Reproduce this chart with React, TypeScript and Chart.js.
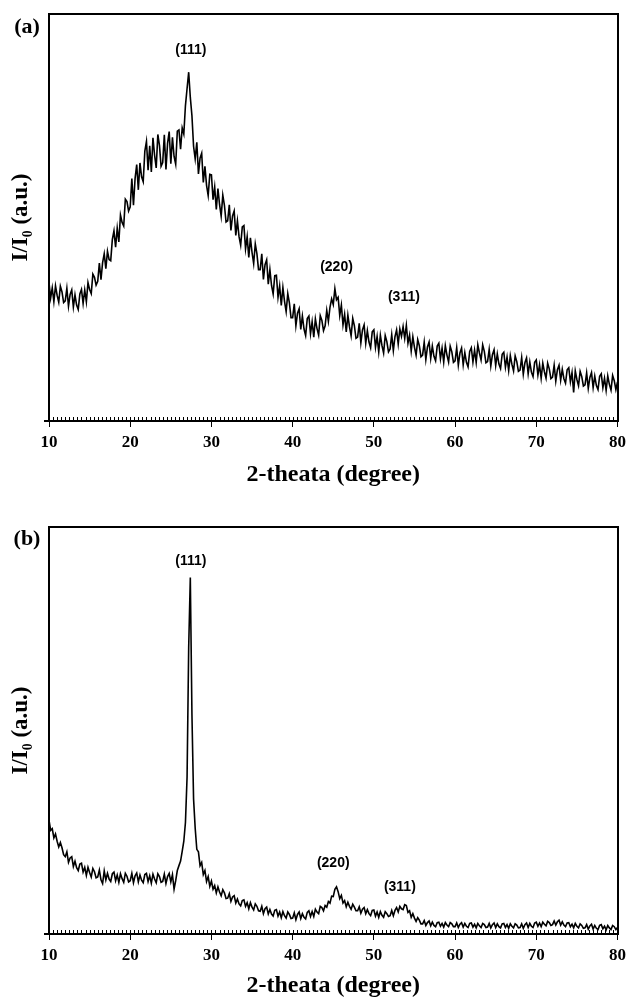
import React, { useEffect, useRef } from 'react';
import { Chart, registerables } from 'chart.js';

Chart.register(...registerables);

// ---- data ----
const THETA_START = 10;
const THETA_STEP = 0.2;
const X_TICKS = [10, 20, 30, 40, 50, 60, 70, 80];
const X_TITLE = '2-theata (degree)';
const Y_TITLE = 'I/I\u2080 (a.u.)';
const PANEL_TAGS = ['(a)', '(b)'];
const PEAK_LABELS = ['(111)', '(220)', '(311)'];
const PEAK_X_A = [27.46, 45.4, 53.7];
const PEAK_Y_A = [91.2, 37.8, 30.5];
const PEAK_X_B = [27.46, 45.0, 53.2];
const PEAK_Y_B = [91.6, 17.4, 11.5];

const INTENSITY_A = [
  34.0, 30.2, 32.7, 29.3, 33.2, 30.9, 29.2, 33.1, 31.7, 29.1,
  29.5, 32.6, 28.2, 31.1, 32.2, 28.0, 31.0, 28.5, 27.4, 31.2,
  32.3, 28.9, 32.2, 29.3, 34.0, 32.3, 31.3, 36.1, 35.3, 33.4,
  34.3, 38.8, 34.7, 38.9, 41.1, 37.4, 41.7, 39.7, 39.4, 44.6,
  46.7, 42.7, 47.4, 44.0, 50.6, 48.8, 47.9, 54.5, 53.9, 51.6,
  52.6, 59.6, 53.0, 59.6, 63.0, 56.8, 63.4, 60.0, 58.8, 66.3,
  68.7, 61.6, 67.6, 61.2, 69.6, 65.3, 62.2, 70.4, 67.7, 62.6,
  63.5, 70.3, 61.8, 68.2, 71.1, 63.2, 69.7, 65.0, 63.1, 71.2,
  71.5, 66.8, 72.0, 70.5, 77.5, 81.7, 85.7, 79.5, 75.0, 67.5,
  64.4, 68.5, 60.7, 64.6, 65.8, 58.6, 62.6, 57.9, 55.4, 60.6,
  60.5, 54.4, 57.5, 52.0, 57.1, 53.2, 50.3, 55.5, 53.0, 48.9,
  49.2, 53.1, 46.8, 50.4, 51.6, 45.6, 49.2, 45.3, 43.2, 47.7,
  48.0, 42.3, 45.3, 40.2, 45.0, 41.4, 38.7, 43.5, 41.1, 37.2,
  37.2, 41.1, 34.8, 38.4, 39.6, 33.6, 37.2, 33.3, 31.2, 35.7,
  35.8, 30.4, 33.2, 28.4, 32.8, 29.4, 26.9, 31.3, 29.0, 25.4,
  25.4, 28.8, 23.4, 26.5, 27.6, 22.5, 25.8, 22.6, 21.0, 25.2,
  25.8, 21.4, 24.4, 20.6, 25.1, 22.7, 21.1, 25.9, 24.7, 22.2,
  23.4, 27.2, 24.5, 28.0, 30.0, 28.6, 32.5, 29.8, 30.4, 25.9,
  28.5, 23.6, 26.2, 21.9, 26.0, 23.1, 20.9, 25.2, 23.4, 20.3,
  20.6, 24.0, 19.2, 22.4, 23.6, 19.1, 22.2, 19.4, 18.0, 21.9,
  22.4, 18.1, 20.8, 17.0, 21.1, 18.5, 16.7, 21.0, 19.5, 17.0,
  17.7, 21.2, 17.3, 20.7, 22.4, 18.9, 22.6, 20.8, 23.2, 20.3,
  23.5, 19.1, 21.1, 17.2, 20.7, 18.1, 16.2, 20.0, 18.5, 15.8,
  16.2, 19.4, 15.1, 18.2, 19.4, 15.4, 18.4, 15.9, 14.8, 18.4,
  19.1, 15.3, 17.9, 14.5, 18.5, 16.2, 14.5, 18.4, 17.0, 14.4,
  14.8, 18.0, 13.7, 16.7, 17.9, 13.8, 16.8, 14.4, 13.3, 17.1,
  18.0, 14.5, 17.4, 14.4, 18.7, 16.7, 15.0, 18.7, 17.1, 14.3,
  14.6, 17.6, 13.5, 16.3, 17.5, 13.6, 16.5, 14.0, 12.9, 16.4,
  16.9, 13.2, 15.7, 12.4, 16.1, 13.9, 12.3, 16.0, 14.6, 12.2,
  12.5, 15.6, 11.5, 14.3, 15.5, 11.6, 14.5, 12.0, 10.9, 14.4,
  15.0, 11.3, 13.8, 10.5, 14.2, 12.1, 10.5, 14.2, 12.8, 10.4,
  10.8, 13.7, 9.8, 12.6, 13.7, 10.0, 12.7, 10.4, 9.3, 12.6,
  13.1, 9.6, 11.9, 7.0, 12.3, 10.2, 8.7, 12.2, 10.9, 8.6,
  8.9, 11.8, 8.0, 10.7, 11.9, 8.2, 11.0, 8.7, 7.7, 11.0,
  11.6, 8.2, 10.5, 7.5, 11.1, 9.0, 7.6, 11.2, 9.9, 7.7,
  9.6,
];

const INTENSITY_B = [
  28.0, 25.5, 25.9, 23.6, 24.6, 22.8, 21.4, 22.5, 21.2, 19.5,
  19.0, 20.2, 17.6, 18.7, 19.0, 16.6, 17.9, 16.3, 15.6, 17.2,
  17.4, 15.2, 16.4, 14.4, 16.4, 15.1, 14.0, 16.1, 15.3, 13.8,
  14.0, 15.7, 13.3, 12.4, 15.5, 13.3, 14.9, 13.5, 12.9, 14.8,
  15.2, 13.1, 14.5, 12.7, 14.8, 13.6, 12.7, 14.9, 14.2, 12.8,
  13.1, 14.9, 12.6, 14.3, 15.0, 12.8, 14.5, 13.2, 12.6, 14.6,
  14.9, 12.9, 14.3, 12.5, 14.7, 13.5, 12.6, 14.8, 14.1, 12.7,
  12.9, 14.7, 12.4, 14.1, 14.9, 12.8, 14.6, 11.0, 13.1, 15.6,
  16.8, 17.9, 20.3, 22.8, 27.4, 38.5, 70.5, 87.6, 54.0, 33.2,
  26.0, 20.8, 20.2, 16.8, 17.6, 14.6, 15.6, 12.9, 14.1, 11.7,
  13.0, 11.0, 11.9, 10.1, 11.6, 10.3, 9.4, 10.9, 10.1, 8.7,
  8.8, 9.9, 8.0, 9.1, 9.4, 7.6, 8.6, 7.4, 6.9, 8.2,
  8.4, 6.8, 7.7, 6.2, 7.7, 6.6, 5.9, 7.4, 6.8, 5.7,
  5.6, 6.8, 5.0, 6.2, 6.6, 4.9, 6.0, 4.9, 4.4, 5.8,
  6.0, 4.4, 5.4, 4.0, 5.5, 4.5, 3.9, 5.4, 4.8, 3.8,
  3.9, 5.2, 3.5, 4.8, 5.4, 3.8, 5.0, 4.1, 3.7, 5.3,
  5.7, 4.3, 5.5, 4.3, 6.1, 5.4, 5.0, 6.8, 6.5, 5.7,
  7.0, 6.6, 8.0, 7.6, 9.3, 9.2, 11.0, 11.6, 10.4, 8.7,
  9.5, 7.6, 8.2, 6.7, 7.8, 6.8, 6.1, 7.3, 6.6, 5.7,
  5.7, 6.7, 5.1, 6.1, 6.5, 5.0, 6.0, 5.0, 4.5, 5.8,
  5.9, 4.4, 5.4, 4.1, 5.5, 4.6, 4.1, 5.5, 5.0, 4.3,
  4.5, 5.8, 4.5, 5.8, 6.5, 5.4, 6.8, 6.2, 6.0, 7.2,
  7.0, 5.3, 5.7, 4.1, 5.0, 3.9, 3.1, 4.0, 3.4, 2.5,
  2.5, 3.3, 2.1, 2.8, 3.2, 2.0, 2.9, 2.1, 1.8, 2.8,
  2.9, 1.9, 2.6, 1.7, 2.8, 2.2, 1.8, 2.8, 2.5, 1.8,
  1.8, 2.7, 1.6, 2.4, 2.8, 1.7, 2.6, 1.9, 1.6, 2.6,
  2.7, 1.7, 2.4, 1.5, 2.6, 2.0, 1.6, 2.6, 2.3, 1.6,
  1.7, 2.6, 1.5, 2.3, 2.7, 1.6, 2.5, 1.8, 1.5, 2.5,
  2.6, 1.6, 2.3, 1.4, 2.5, 1.9, 1.5, 2.5, 2.2, 1.5,
  1.6, 2.5, 1.4, 2.3, 2.7, 1.6, 2.6, 1.9, 1.6, 2.7,
  2.9, 1.9, 2.7, 1.8, 2.9, 2.4, 2.0, 3.1, 2.8, 2.1,
  2.3, 3.2, 2.2, 3.0, 3.4, 2.2, 3.0, 2.2, 1.8, 2.7,
  2.8, 1.8, 2.4, 1.5, 2.6, 1.9, 1.5, 2.5, 2.1, 1.4,
  1.5, 2.3, 1.2, 2.0, 2.4, 1.2, 2.1, 1.4, 1.1, 2.1,
  2.3, 1.3, 1.9, 1.0, 2.1, 1.5, 1.1, 2.1, 1.8, 1.1,
  1.6,
];

const SERIF = '"Liberation Serif", "Times New Roman", serif';
const SANS = '"Liberation Sans", Arial, sans-serif';

const decorPlugin = {
  id: 'decor',
  afterDatasetsDraw(chart: any, _args: any, opts: any) {
    const { ctx, chartArea: ca, scales } = chart;
    const x = scales.x;
    const y = scales.y;
    ctx.save();
    // minor ticks (inward) every 0.5 degree
    ctx.strokeStyle = '#000';
    ctx.lineWidth = 1;
    ctx.beginPath();
    for (let k = 1; k < 140; k++) {
      const v = 10 + k * 0.5;
      const px = Math.round(x.getPixelForValue(v)) + 0.5;
      ctx.moveTo(px, ca.bottom - 1);
      ctx.lineTo(px, ca.bottom - 4);
    }
    ctx.stroke();
    // frame
    ctx.lineWidth = 2;
    ctx.strokeRect(Math.round(ca.left), Math.round(ca.top), Math.round(ca.right - ca.left), Math.round(ca.bottom - ca.top));
    // peak labels
    ctx.fillStyle = '#000';
    ctx.font = `bold 14px ${SANS}`;
    ctx.textAlign = 'center';
    ctx.textBaseline = 'middle';
    opts.labels.forEach((t: string, i: number) => {
      ctx.fillText(t, x.getPixelForValue(opts.xs[i]), y.getPixelForValue(opts.ys[i]));
    });
    // panel tag
    ctx.font = `bold 22px ${SERIF}`;
    ctx.fillText(opts.tag, opts.tagX, opts.tagY);
    ctx.restore();
  },
};

type PanelProps = {
  values: number[];
  tag: string;
  xs: number[];
  ys: number[];
  height: number;
  padTop: number;
  padRight: number;
  xAxisHeight: number;
  xTitlePadBottom: number;
  tagY: number;
};

function Panel(p: PanelProps) {
  const ref = useRef<HTMLCanvasElement | null>(null);
  useEffect(() => {
    if (!ref.current) return;
    const points = p.values.map((v, i) => ({ x: THETA_START + i * THETA_STEP, y: v }));
    const chart = new Chart(ref.current, {
      type: 'line',
      data: {
        datasets: [
          {
            data: points,
            borderColor: '#000',
            borderWidth: 1.6,
            pointRadius: 0,
            tension: 0,
            fill: false,
          },
        ],
      },
      options: {
        animation: false,
        responsive: false,
        events: [],
        layout: { padding: { top: p.padTop, right: p.padRight, left: 0, bottom: 0 } },
        plugins: {
          legend: { display: false },
          tooltip: { enabled: false },
          decor: {
            labels: PEAK_LABELS,
            xs: p.xs,
            ys: p.ys,
            tag: p.tag,
            tagX: 27,
            tagY: p.tagY,
          },
        } as any,
        scales: {
          x: {
            type: 'linear',
            min: 10,
            max: 80,
            afterBuildTicks: (s: any) => {
              s.ticks = X_TICKS.map((v) => ({ value: v }));
            },
            afterFit: (s: any) => {
              s.height = p.xAxisHeight;
            },
            ticks: {
              color: '#000',
              font: { family: SERIF, size: 17, weight: 'bold' },
              padding: 5,
              maxRotation: 0,
              autoSkip: false,
            },
            grid: {
              display: true,
              drawOnChartArea: false,
              drawTicks: true,
              tickLength: 6,
              color: '#000',
              lineWidth: 1,
            },
            border: { display: false },
            title: {
              display: true,
              text: X_TITLE,
              color: '#000',
              font: { family: SERIF, size: 24, weight: 'bold', lineHeight: 1 },
              padding: { top: 0, bottom: p.xTitlePadBottom },
            },
          },
          y: {
            type: 'linear',
            min: 0,
            max: 100,
            afterBuildTicks: (s: any) => {
              s.ticks = [{ value: 0 }];
            },
            afterFit: (s: any) => {
              s.width = 49;
            },
            ticks: { display: false },
            grid: {
              display: true,
              drawOnChartArea: false,
              drawTicks: true,
              tickLength: 5,
              color: '#000',
              lineWidth: 2,
            },
            border: { display: false },
            title: {
              display: true,
              text: Y_TITLE,
              color: '#000',
              font: { family: SERIF, size: 23, weight: 'bold', lineHeight: 1 },
              padding: { top: 10, bottom: 0 },
            },
          },
        },
      } as any,
      plugins: [decorPlugin],
    });
    return () => chart.destroy();
  }, []);
  return <canvas ref={ref} width={631} height={p.height} style={{ display: 'block' }} />;
}

export default function App() {
  return (
    <div
      style={{
        position: 'absolute',
        left: 0,
        top: 0,
        width: 631,
        height: 999,
        overflow: 'hidden',
        background: '#fff',
      }}
    >
      <Panel
        values={INTENSITY_A}
        tag={PANEL_TAGS[0]}
        xs={PEAK_X_A}
        ys={PEAK_Y_A}
        height={500}
        padTop={14}
        padRight={9}
        xAxisHeight={79}
        xTitlePadBottom={13}
        tagY={27}
      />
      <Panel
        values={INTENSITY_B}
        tag={PANEL_TAGS[1]}
        xs={PEAK_X_B}
        ys={PEAK_Y_B}
        height={499}
        padTop={27}
        padRight={8}
        xAxisHeight={65}
        xTitlePadBottom={1}
        tagY={39}
      />
    </div>
  );
}
